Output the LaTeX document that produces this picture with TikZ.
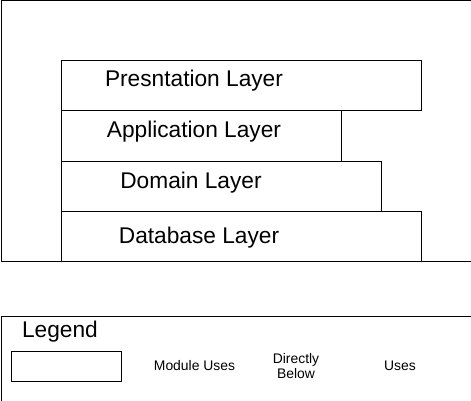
\documentclass[tikz,border=0pt]{standalone}
\usepackage{fontspec}
\setmainfont{Liberation Sans}
\usetikzlibrary{positioning}

\begin{document}
\begin{tikzpicture}[
    x=1pt, y=-1pt,
    line width=1pt,
    layerbox/.style={draw=black, rectangle, inner sep=0pt, anchor=north west},
    layertext/.style={font=\fontsize{22.7}{27}\selectfont, anchor=base, inner sep=0pt},
    legendtext/.style={font=\fontsize{13.9}{15.5}\selectfont, align=center, inner sep=0pt}
]
\useasboundingbox (0,0) rectangle (471,401);

% layered architecture
\node[layerbox, minimum width=470pt, minimum height=260pt] (outer) at (0.5,0.5) {};
\node[layerbox, minimum width=360pt, minimum height=50pt] (pres) at (60.5,60.5) {};
\node[layerbox, minimum width=280pt, minimum height=50pt] (app) at (60.5,110.5) {};
\node[layerbox, minimum width=320pt, minimum height=50pt] (dom) at (60.5,160.5) {};
\node[layerbox, minimum width=360pt, minimum height=50pt] (db) at (60.5,210.5) {};

\node[layertext] (presname) at (194,87) {Presntation Layer};
\node[layertext] (appname) at (194,138) {Application Layer};
\node[layertext] (domname) at (191,188) {Domain Layer};
\node[layertext] (dbname) at (199,243) {Database Layer};

% legend
\node[layerbox, minimum width=470pt, minimum height=85pt] (legend) at (0.5,315.5) {};
\node[layertext] (legendname) at (60,337.5) {Legend};
\node[layerbox, minimum width=110pt, minimum height=30pt] (legendkey) at (10.5,350.5) {};
\node[legendtext, anchor=base] (moduses) at (194.5,370.5) {Module Uses};
\node[legendtext] (below) at (296,366) {Directly\\Below};
\node[legendtext, anchor=base] (uses) at (400,370.5) {Uses};

\end{tikzpicture}
\end{document}
